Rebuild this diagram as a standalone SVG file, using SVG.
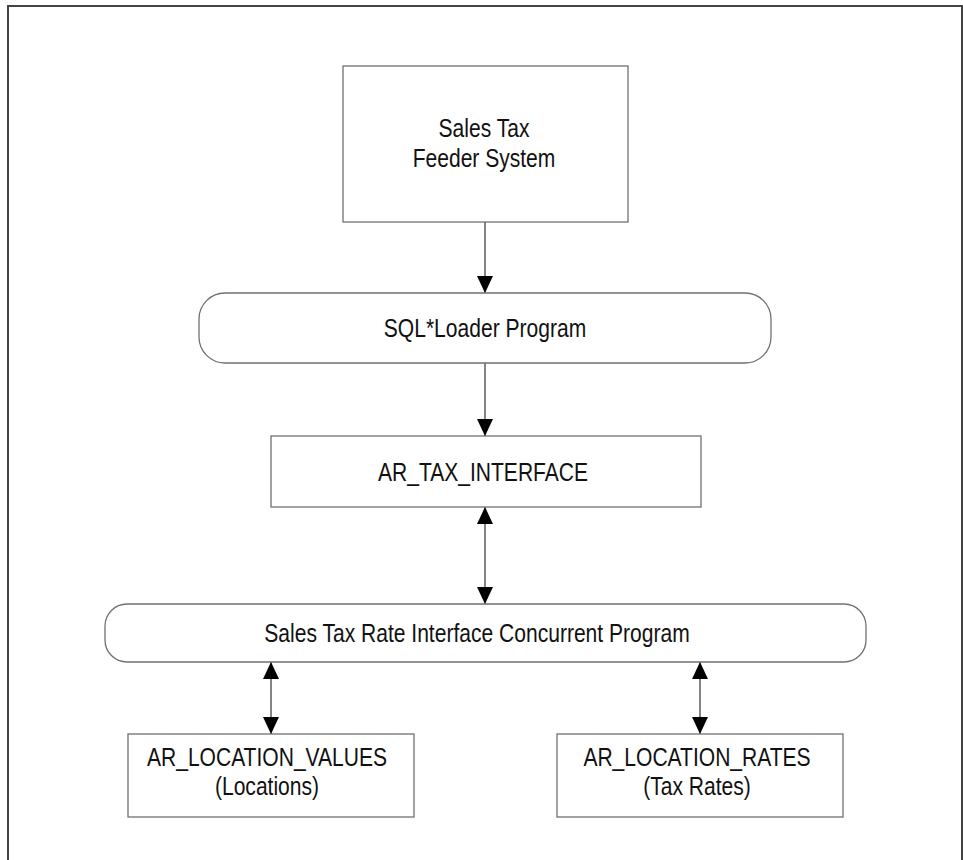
<svg xmlns="http://www.w3.org/2000/svg" width="963" height="860" viewBox="0 0 963 860">
<style>
.box{fill:#fff;stroke:#707070;stroke-width:1.3}
.t{font-family:"Liberation Sans",Arial,sans-serif;font-size:26px;fill:#111;text-anchor:middle}
.c{stroke:#333;stroke-width:1.2;fill:none}
</style>
<defs>
<marker id="ah" markerUnits="userSpaceOnUse" markerWidth="17" markerHeight="16" refX="17" refY="8" orient="auto-start-reverse">
<path d="M0,0 L17,8 L0,16 z" fill="#000"/>
</marker>
</defs>
<rect x="8" y="6" width="954" height="900" fill="#fff" stroke="#444" stroke-width="2"/>
<g id="connectors">
<line class="c" x1="485" y1="222" x2="485" y2="293" marker-end="url(#ah)"/>
<line class="c" x1="485" y1="363" x2="485" y2="436" marker-end="url(#ah)"/>
<line class="c" x1="485" y1="507" x2="485" y2="604" marker-start="url(#ah)" marker-end="url(#ah)"/>
<line class="c" x1="271" y1="662" x2="271" y2="734" marker-start="url(#ah)" marker-end="url(#ah)"/>
<line class="c" x1="700" y1="662" x2="700" y2="734" marker-start="url(#ah)" marker-end="url(#ah)"/>
</g>
<g id="feeder">
<rect class="box" x="343" y="66" width="285" height="156"/>
<text class="t" transform="translate(484,137) scale(0.81,1)">Sales Tax</text>
<text class="t" transform="translate(484,167) scale(0.81,1)">Feeder System</text>
</g>
<g id="sqlloader">
<rect class="box" x="199" y="293" width="572" height="70" rx="26" ry="26"/>
<text class="t" transform="translate(485,337) scale(0.81,1)">SQL*Loader Program</text>
</g>
<g id="artaxinterface">
<rect class="box" x="271" y="436" width="430" height="71"/>
<text class="t" transform="translate(483,481) scale(0.81,1)">AR_TAX_INTERFACE</text>
</g>
<g id="concurrent">
<rect class="box" x="105" y="604" width="761" height="58" rx="22" ry="22"/>
<text class="t" transform="translate(477,642) scale(0.81,1)">Sales Tax Rate Interface Concurrent Program</text>
</g>
<g id="locvalues">
<rect class="box" x="128" y="734" width="286" height="83"/>
<text class="t" transform="translate(267,766) scale(0.81,1)">AR_LOCATION_VALUES</text>
<text class="t" transform="translate(267,795) scale(0.81,1)">(Locations)</text>
</g>
<g id="locrates">
<rect class="box" x="557" y="734" width="286" height="83"/>
<text class="t" transform="translate(697,766) scale(0.81,1)">AR_LOCATION_RATES</text>
<text class="t" transform="translate(697,795) scale(0.81,1)">(Tax Rates)</text>
</g>
</svg>
